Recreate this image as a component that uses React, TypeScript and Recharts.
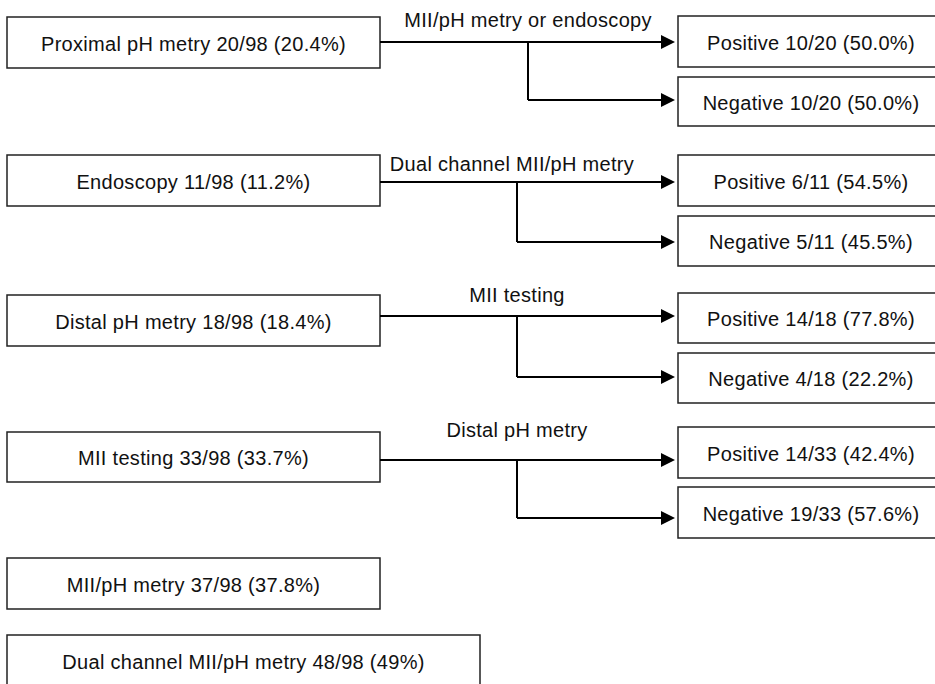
import React from "react";
import {
  ComposedChart,
  XAxis,
  YAxis,
  ReferenceArea,
  ReferenceLine,
  ReferenceDot,
} from "recharts";

// data
const TOTAL = 98;
const tests = [
  "Proximal pH metry",
  "Endoscopy",
  "Distal pH metry",
  "MII testing",
  "MII/pH metry",
  "Dual channel MII/pH metry",
];
const testCounts = [20, 11, 18, 33, 37, 48];
const testPct = ["20.4", "11.2", "18.4", "33.7", "37.8", "49"];

const confirmTests = [
  "MII/pH metry or endoscopy",
  "Dual channel MII/pH metry",
  "MII testing",
  "Distal pH metry",
];
const positiveCounts = [10, 6, 14, 14];
const positivePct = ["50.0", "54.5", "77.8", "42.4"];
const negativeCounts = [10, 5, 4, 19];
const negativePct = ["50.0", "45.5", "22.2", "57.6"];

// layout of the diagram (page pixels, mapped through the hidden axes)
const W = 935;
const H = 684;
const LEFT_X = [7, 380];
const DUAL_RIGHT = 480;
const RIGHT_X = [678, 944];
const ARROW_END = 675;
const ROW_BOX = [
  [17, 68],
  [155, 206],
  [295, 346],
  [432, 482],
  [558, 609],
  [635, 686],
];
const MAIN_Y = [42, 182, 316, 460];
const POS_BOX = [
  [16, 67],
  [155, 206],
  [293, 343],
  [427, 478],
];
const NEG_BOX = [
  [77, 126],
  [216, 266],
  [353, 403],
  [487, 538],
];
const NEG_Y = [100, 242, 377, 518];
const BRANCH_X = [528, 517, 517, 517];
const EDGE_LABEL_X = [528, 512, 517, 517];
const EDGE_LABEL_Y = [20, 164, 295, 430];

const FONT = '"Liberation Sans", Arial, sans-serif';
const FONT_SIZE = 20;
const LETTER = 0.3;

const fmt = (n: number, d: number, p: string) => `${n}/${d} (${p}%)`;

const BoxText = (props: any) => {
  const { viewBox, text } = props;
  if (!viewBox) return null;
  return (
    <text
      x={viewBox.x + viewBox.width / 2}
      y={viewBox.y + viewBox.height / 2 + 1}
      textAnchor="middle"
      dominantBaseline="central"
      fontFamily={FONT}
      fontSize={FONT_SIZE}
      letterSpacing={LETTER}
      fill="#111"
    >
      {text}
    </text>
  );
};

const Arrow = (props: any) => {
  const { x1, y1, x2, y2 } = props;
  const head = 14;
  return (
    <g>
      <line x1={x1} y1={y1} x2={x2 - head + 1} y2={y2} stroke="#000" strokeWidth={2} />
      <polygon
        points={`${x2},${y2} ${x2 - head},${y2 - 7} ${x2 - head},${y2 + 7}`}
        fill="#000"
      />
    </g>
  );
};

const EdgeText = (text: string) => (p: any) => (
  <text
    x={p.cx}
    y={p.cy}
    textAnchor="middle"
    dominantBaseline="central"
    fontFamily={FONT}
    fontSize={FONT_SIZE}
    letterSpacing={LETTER}
    fill="#111"
  >
    {text}
  </text>
);

const box = (key: string, x: number[], y: number[], text: string) => (
  <ReferenceArea
    key={key}
    x1={x[0]}
    x2={x[1]}
    y1={y[0]}
    y2={y[1]}
    fill="#fff"
    fillOpacity={1}
    stroke="#222"
    strokeWidth={1.5}
    ifOverflow="visible"
    label={{ content: (p: any) => <BoxText {...p} text={text} /> }}
  />
);

export default function App() {
  return (
    <div style={{ width: W, height: H, background: "#fff" }}>
      <style>{`body{margin:0;background:#fff}`}</style>
      <ComposedChart
        width={W}
        height={H}
        data={[]}
        margin={{ top: 0, right: 0, bottom: 0, left: 0 }}
      >
        <XAxis type="number" dataKey="x" domain={[0, W]} allowDataOverflow hide />
        <YAxis type="number" dataKey="y" domain={[0, H]} allowDataOverflow reversed hide />

        {tests.map((t, i) =>
          box(
            `t${i}`,
            i === 5 ? [LEFT_X[0], DUAL_RIGHT] : LEFT_X,
            ROW_BOX[i],
            `${t} ${fmt(testCounts[i], TOTAL, testPct[i])}`
          )
        )}

        {confirmTests.map((c, i) => (
          <React.Fragment key={`c${i}`}>
            {box(`p${i}`, RIGHT_X, POS_BOX[i], `Positive ${fmt(positiveCounts[i], testCounts[i], positivePct[i])}`)}
            {box(`n${i}`, RIGHT_X, NEG_BOX[i], `Negative ${fmt(negativeCounts[i], testCounts[i], negativePct[i])}`)}
            <ReferenceLine
              segment={[
                { x: LEFT_X[1], y: MAIN_Y[i] },
                { x: ARROW_END, y: MAIN_Y[i] },
              ]}
              ifOverflow="visible"
              shape={Arrow}
            />
            <ReferenceLine
              segment={[
                { x: BRANCH_X[i], y: MAIN_Y[i] },
                { x: BRANCH_X[i], y: NEG_Y[i] },
              ]}
              stroke="#000"
              strokeWidth={2}
              ifOverflow="visible"
            />
            <ReferenceLine
              segment={[
                { x: BRANCH_X[i], y: NEG_Y[i] },
                { x: ARROW_END, y: NEG_Y[i] },
              ]}
              ifOverflow="visible"
              shape={Arrow}
            />
            <ReferenceDot
              x={EDGE_LABEL_X[i]}
              y={EDGE_LABEL_Y[i]}
              ifOverflow="visible"
              shape={EdgeText(c)}
            />
          </React.Fragment>
        ))}
      </ComposedChart>
    </div>
  );
}
